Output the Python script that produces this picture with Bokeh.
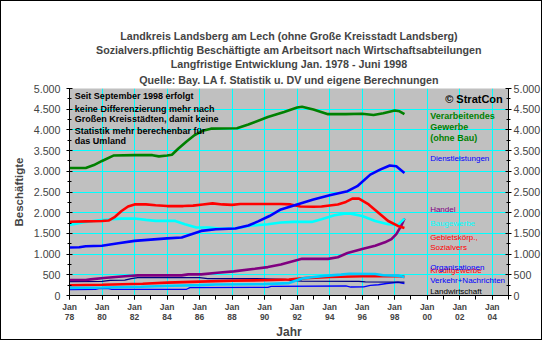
from bokeh.plotting import figure
from bokeh.models import FixedTicker, LinearAxis, Label, Range1d, Title
from bokeh.embed import file_html
from bokeh.resources import INLINE

# ---------------- data (year as decimal, 78 = Jan 1978) ----------------
verarb_x = [78.0, 79.0, 79.5, 80.0, 80.7, 82.0, 83.1, 83.5, 84.0, 84.3, 84.7, 85.2, 85.7, 86.2, 86.7,
            88.3, 89.0, 90.2, 91.2, 92.0, 92.3, 93.0, 93.9, 95.0, 96.0, 96.7, 97.3, 98.0, 98.3, 98.6]
verarb_y = [3080, 3080, 3150, 3250, 3380, 3390, 3390, 3360, 3380, 3400, 3550, 3720, 3875, 3980, 4030,
            4040, 4130, 4310, 4430, 4540, 4560, 4490, 4380, 4380, 4390, 4360, 4400, 4470, 4450, 4380]

dienst_x = [78.0, 78.6, 79.0, 80.0, 81.0, 82.0, 83.0, 84.0, 84.9, 85.5, 86.1, 87.0, 88.2, 89.0, 89.6,
            90.3, 91.0, 92.0, 93.0, 94.0, 95.1, 95.7, 96.5, 97.1, 97.7, 98.1, 98.6]
dienst_y = [1160, 1165, 1190, 1200, 1260, 1320, 1350, 1380, 1400, 1480, 1560, 1600, 1620, 1690, 1790,
            1920, 2080, 2200, 2320, 2420, 2520, 2640, 2920, 3040, 3140, 3120, 2960]

gebiet_x = [78.0, 79.0, 80.0, 80.4, 80.8, 81.2, 81.6, 82.0, 82.7, 83.3, 84.0, 85.0, 85.6, 86.2, 86.8,
            87.4, 88.0, 88.5, 91.0, 91.6, 92.2, 93.0, 93.5, 94.5, 95.0, 95.4, 95.8, 96.4, 97.0, 97.6,
            98.2, 98.6]
gebiet_y = [1780, 1790, 1800, 1810, 1900, 2040, 2150, 2200, 2200, 2180, 2160, 2160, 2170, 2200, 2225,
            2200, 2190, 2210, 2210, 2200, 2150, 2145, 2150, 2200, 2260, 2340, 2340, 2200, 2000, 1800,
            1680, 1630]

bau_x = [78.0, 78.8, 79.8, 80.6, 81.2, 82.0, 82.7, 83.3, 84.5, 85.1, 85.8, 86.6, 87.2, 88.2, 89.2,
         90.2, 91.0, 91.8, 92.9, 93.5, 94.3, 94.9, 95.3, 96.0, 96.8, 97.6, 98.2, 98.6]
bau_y = [1706, 1762, 1818, 1842, 1858, 1858, 1826, 1802, 1802, 1722, 1642, 1642, 1619, 1619, 1690,
         1722, 1762, 1778, 1778, 1842, 1938, 1978, 1978, 1921, 1801, 1722, 1706, 1858]

handel_x = [78.0, 79.0, 79.3, 80.1, 81.6, 82.2, 84.9, 85.3, 86.1, 87.1, 88.1, 89.4, 90.2, 91.0, 92.3,
            93.9, 94.5, 95.1, 96.0, 96.8, 97.4, 97.8, 98.1, 98.4, 98.6]
handel_y = [375, 375, 390, 423, 471, 486, 486, 510, 510, 550, 582, 646, 686, 750, 885,
            885, 925, 1028, 1124, 1203, 1284, 1363, 1483, 1682, 1858]

kredit_x = [78.0, 80.0, 82.5, 84.0, 86.0, 88.0, 90.0, 91.5, 92.5, 94.0, 96.0, 98.2, 98.6]
kredit_y = [247, 260, 285, 310, 335, 355, 370, 385, 420, 447, 465, 471, 450]

organ_x = [78.0, 80.0, 82.4, 84.3, 86.0, 87.0, 90.0, 91.5, 92.3, 92.9, 93.7, 94.7, 95.2, 96.8, 97.3,
           98.2, 98.6]
organ_y = [185, 195, 210, 235, 250, 265, 275, 300, 410, 440, 475, 505, 525, 520, 490, 480, 445]

verkehr_x = [78.0, 80.0, 80.5, 81.4, 81.8, 82.2, 86.0, 86.5, 89.5, 91.3, 91.6, 92.3, 95.8, 96.2, 98.6]
verkehr_y = [335, 340, 365, 370, 405, 430, 430, 410, 405, 390, 365, 345, 340, 328, 325]

landw_x = [78.0, 79.6, 79.8, 80.4, 80.6, 85.2, 85.4, 90.2, 90.4, 95.0, 95.3, 96.1, 96.5, 97.0, 97.5,
           98.2, 98.6]
landw_y = [145, 150, 165, 165, 150, 150, 190, 195, 220, 230, 205, 210, 245, 260, 290, 320, 290]

y_ticks = [0, 500, 1000, 1500, 2000, 2500, 3000, 3500, 4000, 4500, 5000]
y_minor = list(range(0, 5001, 250))
x_ticks = list(range(78, 105, 2))
x_minor = list(range(78, 106))
x_tick_labels = {t: "Jan\n%02d" % (t % 100) for t in x_ticks}
y_tick_labels = {t: "{:,}".format(t).replace(",", ".") for t in y_ticks}

title_lines = [
    "Landkreis Landsberg am Lech (ohne Große Kreisstadt Landsberg)",
    "Sozialvers.pflichtig Beschäftigte am Arbeitsort nach Wirtschaftsabteilungen",
    "Langfristige Entwicklung Jan. 1978 - Juni 1998",
    "Quelle: Bay. LA f. Statistik u. DV und eigene Berechnungen",
]
note_lines = [
    "Seit September 1998 erfolgt",
    "keine Differenzierung mehr nach",
    "Großen  Kreisstädten, damit keine",
    "Statistik mehr berechenbar für",
    "das Umland",
]

# ---------------- figure ----------------
FONT = "Liberation Sans"
p = figure(width=542, height=340, output_backend="svg", toolbar_location=None,
           x_range=Range1d(78, 105), y_range=Range1d(0, 5000),
           min_border_left=68, min_border_right=35, min_border_top=87, min_border_bottom=44,
           background_fill_color="#C0C0C0", border_fill_color="white", outline_line_color=None)
p.styles = {"border": "1px solid black"}

p.xgrid.grid_line_color = "#00FFFF"
p.ygrid.grid_line_color = "#00FFFF"
p.xgrid.grid_line_width = 1
p.ygrid.grid_line_width = 1

xa = p.xaxis[0]
xa.ticker = FixedTicker(ticks=x_ticks, minor_ticks=x_minor)
xa.major_label_overrides = x_tick_labels
xa.major_tick_in = 0
xa.major_tick_out = 4
xa.minor_tick_in = 0
xa.minor_tick_out = 4
xa.major_label_standoff = 2
xa.major_label_text_font = FONT
xa.major_label_text_font_style = "bold"
xa.major_label_text_font_size = "8.5px"
xa.major_label_text_line_height = 1.0
xa.axis_label = "Jahr"
xa.axis_label_text_font = FONT
xa.axis_label_text_font_style = "bold"
xa.axis_label_text_font_size = "12px"
xa.axis_label_standoff = 0
xa.axis_line_color = "black"

ya = p.yaxis[0]
ya.ticker = FixedTicker(ticks=y_ticks, minor_ticks=y_minor)
ya.major_label_overrides = y_tick_labels
ya.major_tick_in = 3
ya.major_tick_out = 3
ya.minor_tick_in = 2
ya.minor_tick_out = 2
ya.major_label_standoff = 6
ya.major_label_text_font = FONT
ya.major_label_text_font_size = "10.7px"
ya.axis_label = "Beschäftigte"
ya.axis_label_text_font = FONT
ya.axis_label_text_font_style = "bold"
ya.axis_label_text_font_size = "11.5px"
ya.axis_label_standoff = 6

ra = LinearAxis(ticker=FixedTicker(ticks=y_ticks, minor_ticks=y_minor),
                major_label_overrides=y_tick_labels,
                major_tick_in=3, major_tick_out=3, minor_tick_in=2, minor_tick_out=2,
                major_label_standoff=2, major_label_text_font=FONT,
                major_label_text_font_size="10.7px")
p.add_layout(ra, "right")

# ---------------- title (stacked from the frame upwards) ----------------
standoffs = [0, 0, 0, 5]
for t, so in reversed(list(zip(title_lines, standoffs))):
    p.add_layout(Title(text=t, align="center", text_font=FONT, text_font_size="10.7px",
                       text_font_style="bold", standoff=so, offset=-5), "above")

# ---------------- series ----------------
p.line(landw_x, landw_y, line_color="#0000FF", line_width=1.3)
p.line(verkehr_x, verkehr_y, line_color="#000080", line_width=1.3)
p.line(kredit_x, kredit_y, line_color="#FF0000", line_width=2.6)
p.line(organ_x, organ_y, line_color="#00CCFF", line_width=2.6)
p.line(handel_x, handel_y, line_color="#800080", line_width=2.6)
p.line(bau_x, bau_y, line_color="#00FFFF", line_width=2.6)
p.line(gebiet_x, gebiet_y, line_color="#FF0000", line_width=2.6)
p.line(dienst_x, dienst_y, line_color="#0000FF", line_width=2.6)
p.line(verarb_x, verarb_y, line_color="#008000", line_width=2.6)

# ---------------- texts inside the plot area ----------------
def lab(x, y, text, size, color="black", bold=False, align="left"):
    p.add_layout(Label(x=x, y=y, text=text, text_font=FONT, text_font_size=size,
                       text_color=color, text_font_style="bold" if bold else "normal",
                       text_align=align, text_baseline="middle"))

note_y = [4808, 4514, 4258, 3978, 3732]
for t, yy in zip(note_lines, note_y):
    lab(78.33, yy, t, "9px", bold=True)

lab(104.65, 4737, "© StratCon", "11px", bold=True, align="right")

LX = 100.18
lab(LX, 4337, "Verarbeitendes", "9px", "#008000", bold=True)
lab(LX, 4074, "Gewerbe", "9px", "#008000", bold=True)
lab(LX, 3811, "(ohne Bau)", "9px", "#008000", bold=True)
lab(LX, 3301, "Dienstleistungen", "8px", "#0000FF")
lab(LX, 2081, "Handel", "8px", "#800080")
lab(LX, 1739, "Baugewerbe", "8px", "#00FFFF")
lab(LX, 1404, "Gebietskörp.,", "8px", "#FF0000")
lab(LX, 1148, "Sozialvers", "8px", "#FF0000")
lab(LX, 605, "Kreditgewerbe", "8px", "#FF0000")
lab(LX, 686, "Organisationen", "8px", "#0000FF")
lab(LX, 352, "Verkehr+Nachrichten", "8px", "#0000FF")
lab(LX, 103, "Landwirtschaft", "8px", "black")

open("out.html", "w").write(file_html(p, INLINE))
